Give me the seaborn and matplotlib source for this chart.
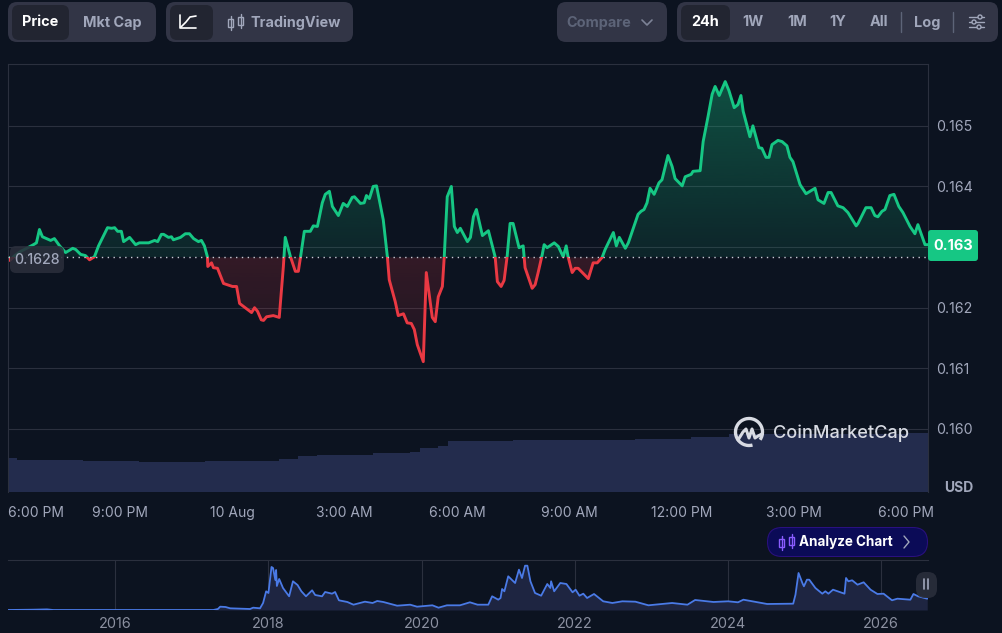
import numpy as np
import seaborn as sns
import matplotlib
matplotlib.use('Agg')
import matplotlib.pyplot as plt
from matplotlib.patches import Arc, Circle, FancyBboxPatch, PathPatch, Rectangle
from matplotlib.path import Path

# hours after 6:00 PM, and price in thousandths of a USD
hours = [
    0.02, 0.05, 0.18, 0.34, 0.50, 0.68, 0.76, 0.84, 0.92, 1.14, 1.24, 1.38, 1.54, 1.73, 1.81, 1.94, 2.07, 2.18, 2.31, 2.42,
    2.66, 2.77, 2.85, 2.93, 3.03, 3.09, 3.25, 3.41, 3.51, 3.76, 3.92, 4.00, 4.10, 4.16, 4.29, 4.37, 4.42, 4.61, 4.74, 4.85,
    4.96, 5.09, 5.17, 5.25, 5.33, 5.34, 5.44, 5.49, 5.60, 5.76, 5.95, 6.00, 6.11, 6.19, 6.51, 6.59, 6.67, 6.77, 6.83, 6.91,
    7.09, 7.25, 7.36, 7.41, 7.55, 7.68, 7.76, 7.82, 7.92, 8.08, 8.16, 8.27, 8.40, 8.48, 8.59, 8.67, 8.83, 8.96, 9.07, 9.20,
    9.26, 9.42, 9.52, 9.58, 9.66, 9.76, 9.85, 10.03, 10.14, 10.19, 10.35, 10.43, 10.57, 10.67, 10.78, 10.86, 10.94, 11.10, 11.18, 11.34,
    11.42, 11.50, 11.61, 11.66, 11.74, 11.85, 11.93, 12.01, 12.09, 12.28, 12.36, 12.44, 12.52, 12.68, 12.84, 13.02, 13.08, 13.18, 13.26, 13.34,
    13.42, 13.50, 13.66, 13.77, 13.82, 14.01, 14.09, 14.17, 14.28, 14.33, 14.41, 14.60, 14.71, 14.84, 14.92, 14.97, 15.08, 15.16, 15.24, 15.51,
    15.64, 15.75, 15.88, 15.96, 16.18, 16.26, 16.34, 16.50, 16.58, 16.84, 16.92, 17.00, 17.08, 17.16, 17.27, 17.40, 17.48, 17.64, 17.75, 17.83,
    18.02, 18.10, 18.26, 18.31, 18.50, 18.58, 18.71, 18.82, 18.90, 19.01, 19.17, 19.27, 19.41, 19.51, 19.59, 19.65, 19.83, 19.91, 20.07, 20.15,
    20.26, 20.34, 20.42, 20.58, 20.69, 20.82, 20.90, 20.98, 21.17, 21.33, 21.57, 21.65, 21.81, 21.92, 22.00, 22.18, 22.32, 22.45, 22.67, 22.72,
    22.93, 23.07, 23.17, 23.25, 23.36, 23.44, 23.57, 23.68, 23.81, 23.92, 24.11, 24.24, 24.32, 24.51, 24.59,
]
prices = [
    162.83, 162.78, 162.86, 162.93, 162.98, 163.04, 163.07, 163.29, 163.17, 163.11, 163.14, 163.02, 162.91, 162.98, 162.96, 162.88, 162.86, 162.79, 162.84, 163.02,
    163.32, 163.31, 163.32, 163.26, 163.26, 163.09, 163.16, 163.04, 163.07, 163.07, 163.11, 163.09, 163.21, 163.21, 163.16, 163.17, 163.12, 163.16, 163.22, 163.22,
    163.14, 163.09, 163.11, 163.02, 162.84, 162.68, 162.74, 162.66, 162.65, 162.40, 162.36, 162.35, 162.35, 162.07, 161.92, 162.00, 161.94, 161.80, 161.79, 161.85,
    161.87, 161.84, 162.68, 163.16, 162.84, 162.60, 162.60, 162.84, 163.26, 163.26, 163.35, 163.34, 163.73, 163.87, 163.92, 163.67, 163.52, 163.72, 163.67, 163.82,
    163.83, 163.72, 163.73, 163.85, 163.80, 164.00, 164.01, 163.45, 162.84, 162.46, 162.10, 161.87, 161.90, 161.75, 161.74, 161.64, 161.39, 161.11, 162.58, 161.84,
    161.77, 162.18, 162.35, 162.84, 163.83, 164.00, 163.34, 163.24, 163.31, 163.09, 163.16, 163.50, 163.62, 163.19, 163.27, 162.84, 162.43, 162.35, 162.45, 162.84,
    163.39, 163.39, 162.99, 163.02, 162.66, 162.32, 162.38, 162.58, 162.88, 163.04, 162.99, 163.07, 163.01, 162.84, 163.02, 162.84, 162.58, 162.65, 162.65, 162.48,
    162.74, 162.74, 162.83, 162.96, 163.24, 163.02, 163.16, 162.98, 163.07, 163.54, 163.59, 163.62, 163.73, 163.97, 163.87, 164.06, 164.11, 164.51, 164.33, 164.13,
    164.01, 164.16, 164.20, 164.25, 164.26, 164.74, 165.15, 165.52, 165.65, 165.50, 165.73, 165.58, 165.30, 165.35, 165.50, 165.24, 164.82, 165.00, 164.64, 164.63,
    164.48, 164.48, 164.69, 164.76, 164.74, 164.67, 164.48, 164.41, 164.03, 163.88, 163.97, 163.78, 163.72, 163.90, 163.90, 163.68, 163.65, 163.57, 163.35, 163.39,
    163.65, 163.65, 163.52, 163.50, 163.59, 163.62, 163.85, 163.87, 163.67, 163.57, 163.34, 163.22, 163.37, 163.04, 163.04,
]
base_price = 162.83

# volume per 15 minutes, relative units
volume = [
    33.7, 32, 32, 32, 32, 32, 32, 32, 31, 31, 31, 31, 31, 31, 30, 30, 30, 30, 30, 30, 30,
    31, 31, 31, 31, 31, 31, 31, 31, 33, 33, 35.7, 35.7, 37.3, 37.3, 37.3, 37.3, 37.3, 37.3,
    38.7, 38.7, 38.7, 38.7, 40, 43.7, 43.7, 46, 51.3, 51.3, 51.3, 51.3, 51.3, 51.3, 51.3,
    52, 52, 52, 52, 52, 52, 52, 52, 52, 52, 52, 52, 52,
    53.3, 53.3, 53.3, 53.3, 53.3, 53.3, 55, 55, 55, 55,
    57.7, 57.7, 57.7, 57.7, 57.7, 57.7, 57.7, 57.7, 57.7, 57.7, 57.7, 57.7, 57.7, 57.7, 57.7, 57.7, 57.7, 57.7, 57.7,
    59.3, 59.3, 59.3,
]

# all-time overview
years = [
    2014.60, 2014.93, 2015.11, 2015.19, 2017.28, 2017.34, 2017.37, 2017.44, 2017.50, 2017.76, 2017.80, 2017.89, 2017.93, 2017.97, 2018.00, 2018.04, 2018.06, 2018.09, 2018.10, 2018.11,
    2018.14, 2018.19, 2018.27, 2018.32, 2018.38, 2018.43, 2018.49, 2018.57, 2018.61, 2018.70, 2018.74, 2018.83, 2018.87, 2018.92, 2019.03, 2019.11, 2019.26, 2019.36, 2019.42, 2019.50,
    2019.68, 2019.85, 2019.94, 2020.14, 2020.22, 2020.33, 2020.50, 2020.63, 2020.73, 2020.87, 2020.92, 2021.00, 2021.03, 2021.05, 2021.08, 2021.13, 2021.22, 2021.27, 2021.31, 2021.35,
    2021.38, 2021.42, 2021.48, 2021.56, 2021.64, 2021.68, 2021.69, 2021.73, 2021.81, 2021.89, 2021.97, 2022.01, 2022.06, 2022.11, 2022.16, 2022.25, 2022.37, 2022.49, 2022.62, 2022.79,
    2022.96, 2023.27, 2023.47, 2023.57, 2023.81, 2024.00, 2024.13, 2024.20, 2024.51, 2024.85, 2024.88, 2024.92, 2024.97, 2024.99, 2025.03, 2025.06, 2025.14, 2025.23, 2025.27, 2025.31,
    2025.37, 2025.52, 2025.54, 2025.57, 2025.62, 2025.69, 2025.77, 2025.86, 2025.95, 2026.03, 2026.14, 2026.21, 2026.38, 2026.42, 2026.48, 2026.60,
]
history = [
    0.000, 0.004, 0.008, 0.000, 0.000, 0.013, 0.043, 0.039, 0.022, 0.013, 0.030, 0.022, 0.091, 0.243, 0.221, 0.559, 0.546, 0.390, 0.520, 0.312,
    0.403, 0.286, 0.178, 0.373, 0.325, 0.243, 0.178, 0.256, 0.195, 0.178, 0.234, 0.212, 0.234, 0.126, 0.104, 0.069, 0.108, 0.091, 0.117, 0.104,
    0.056, 0.069, 0.043, 0.061, 0.030, 0.061, 0.061, 0.100, 0.069, 0.069, 0.178, 0.134, 0.156, 0.273, 0.243, 0.438, 0.351, 0.524, 0.416, 0.576,
    0.576, 0.373, 0.221, 0.186, 0.338, 0.286, 0.373, 0.243, 0.351, 0.338, 0.230, 0.264, 0.186, 0.212, 0.156, 0.208, 0.113, 0.091, 0.113, 0.108,
    0.061, 0.091, 0.069, 0.130, 0.104, 0.113, 0.100, 0.134, 0.078, 0.082, 0.199, 0.481, 0.351, 0.308, 0.394, 0.394, 0.286, 0.212, 0.243, 0.212,
    0.264, 0.212, 0.416, 0.373, 0.386, 0.329, 0.360, 0.264, 0.208, 0.212, 0.126, 0.147, 0.134, 0.208, 0.178, 0.147,
]

# the 0.163 tick is shown by the green badge instead
price_ticks = [160, 161, 162, 163, 164, 165]
price_labels = ['0.160', '0.161', '0.162', '', '0.164', '0.165']
hour_ticks = [0, 3, 6, 9, 12, 15, 18, 21, 24]
hour_labels = ['6:00 PM', '9:00 PM', '10 Aug', '3:00 AM', '6:00 AM', '9:00 AM', '12:00 PM', '3:00 PM', '6:00 PM']
year_ticks = [2016, 2018, 2020, 2022, 2024, 2026]

BG = '#0c1320'
GRID = '#2b303e'
GREEN = '#16c784'
RED = '#ea3943'
BLUE = '#4a7ae6'
MUTED = '#a1a7bb'
PANEL = '#323546'
ACTIVE = '#222531'
W, H = 1002, 633

sns.set_theme(style='dark', rc={'figure.facecolor': BG, 'axes.facecolor': BG})
plt.rcParams['font.family'] = ['Inter', 'DejaVu Sans']

fig = plt.figure(figsize=(W / 100, H / 100), dpi=100)


def px_axes(left, top, right, bottom, **kw):
    return fig.add_axes([left / W, 1 - bottom / H, (right - left) / W, (bottom - top) / H], **kw)


hours_a = np.array(hours)
prices_a = np.array(prices)
xlim = (0.016, 24.59)
ylim = (158.96, 166.02)

# volume sits underneath the price line
ax_vol = px_axes(8, 64, 928, 492)
vol_x = np.arange(len(volume)) * 0.25 + 0.14
sns.barplot(x=vol_x, y=volume, native_scale=True, width=1.0, color='#232c4d', saturation=1,
            linewidth=0, ax=ax_vol)
ax_vol.set_xlim(*xlim)
ax_vol.set_ylim(0, 428)
ax_vol.set_xlabel('')
ax_vol.set_ylabel('')
ax_vol.set_xticks([])
ax_vol.set_yticks([])
for s in ax_vol.spines.values():
    s.set_visible(False)

ax = px_axes(8, 64, 928, 492)
ax.patch.set_alpha(0)
ax.set_xlim(*xlim)
ax.set_ylim(*ylim)


def gradient_fill(where_mask, rgb, a_start, a_end):
    poly = ax.fill_between(hours_a, prices_a, base_price, where=where_mask, interpolate=True,
                           color='none', linewidth=0)
    compound = Path.make_compound_path(*poly.get_paths())
    grad = np.zeros((256, 1, 4))
    grad[..., :3] = matplotlib.colors.to_rgb(rgb)
    grad[:, 0, 3] = np.linspace(a_start, a_end, 256)
    low, high = compound.vertices[:, 1].min(), compound.vertices[:, 1].max()
    im = ax.imshow(grad, extent=(xlim[0], xlim[1], low, high), origin='lower', aspect='auto', zorder=1)
    im.set_clip_path(PathPatch(compound, transform=ax.transData))


gradient_fill(prices_a >= base_price, GREEN, 0.10, 0.34)
gradient_fill(prices_a <= base_price, RED, 0.08, 0.18)
ax.set_xlim(*xlim)
ax.set_ylim(*ylim)

# one line, drawn twice and clipped at the opening price
for color, low, high in ((GREEN, base_price, ylim[1]), (RED, ylim[0], base_price)):
    sns.lineplot(x=hours, y=prices, estimator=None, sort=False, color=color, linewidth=2.1,
                 ax=ax, zorder=3)
    line = ax.lines[-1]
    line.set_solid_joinstyle('round')
    line.set_clip_path(Rectangle((xlim[0], low), xlim[1] - xlim[0], high - low, transform=ax.transData))

ax.axhline(base_price, color='#c9ccd6', linewidth=1, linestyle=(0, (1, 3.2)), zorder=4)

ax.yaxis.tick_right()
ax.set_yticks(price_ticks, price_labels, color=MUTED, fontsize=10.2)
ax.set_xticks(hour_ticks, hour_labels, color=MUTED, fontsize=10)
ax.get_xticklabels()[0].set_ha('left')
ax.tick_params(axis='x', length=0, pad=10)
ax.tick_params(axis='y', length=0, pad=5.5)
ax.grid(axis='y', color=GRID, linewidth=0.8, zorder=0)
ax.grid(axis='x', visible=False)
ax.set_axisbelow(True)
ax.set_xlabel('')
ax.set_ylabel('')
for name, s in ax.spines.items():
    s.set_visible(name in ('left', 'right', 'top'))
    s.set_color(GRID)
    s.set_linewidth(0.8)

# overview strip
ax_hist = px_axes(8, 560, 928, 610)
sns.lineplot(x=years, y=history, estimator=None, sort=False, color=BLUE, linewidth=1.3, ax=ax_hist, zorder=3)
ax_hist.fill_between(years, history, 0, color='#1e2541', linewidth=0, zorder=2)
ax_hist.set_xlim(2014.6, 2026.61)
ax_hist.set_ylim(0, 0.65)
ax_hist.set_yticks([])
ax_hist.set_xticks(year_ticks, [str(y) for y in year_ticks], color='#8b90a0', fontsize=10.4)
ax_hist.tick_params(axis='x', length=0, pad=5)
ax_hist.grid(axis='x', color=GRID, linewidth=0.8, zorder=0)
ax_hist.set_xlabel('')
ax_hist.set_ylabel('')
for name, s in ax_hist.spines.items():
    s.set_visible(name in ('top',))
    s.set_color(GRID)
    s.set_linewidth(0.8)

# toolbar and badges, laid out in screen pixels
ui = fig.add_axes([0, 0, 1, 1], zorder=10)
ui.set_xlim(0, W)
ui.set_ylim(H, 0)
ui.axis('off')
ui.patch.set_alpha(0)


def box(x0, y0, x1, y1, color, r=8, **kw):
    ui.add_patch(FancyBboxPatch((x0 + r, y0 + r), x1 - x0 - 2 * r, y1 - y0 - 2 * r,
                                boxstyle=f'round,pad={r},rounding_size={r}', fc=color, ec='none', **kw))


def label(x, y, s, color=MUTED, size=10.4, weight='bold', ha='center'):
    ui.text(x, y + 0.5, s, color=color, fontsize=size, fontweight=weight, ha=ha, va='center')


def candles(x, y, color):
    for dx, top, bot in ((-5, -3, 5), (5, -5, 3)):
        ui.plot([x + dx, x + dx], [y + top - 3, y + bot + 3], color=color, lw=1)
        ui.add_patch(Rectangle((x + dx - 2.5, y + top), 5, bot - top, fc='none', ec=color, lw=1, zorder=3))


box(8, 2, 156, 42, PANEL, r=9)
box(12, 5, 69, 40, ACTIVE, r=7)
label(40, 22, 'Price', color='white')
label(112, 22, 'Mkt Cap')

box(166, 2, 353, 42, PANEL, r=9)
box(170, 5, 213, 40, ACTIVE, r=7)
ui.plot([180, 180, 196], [15, 28, 28], color='white', lw=1.2)
ui.plot([181, 186, 190, 196], [27, 22, 17, 16], color='white', lw=1.2)
candles(236, 22, MUTED)
label(296, 22, 'TradingView')

box(557, 2, 667, 42, PANEL, r=9)
label(599, 22, 'Compare', color='#5d6478')
ui.plot([642, 647, 652], [20, 25, 20], color='#7d8397', lw=1.2)

box(677, 2, 998, 42, PANEL, r=9)
box(681, 5, 730, 40, ACTIVE, r=7)
label(705, 22, '24h', color='white')
for x, s in ((753, '1W'), (797, '1M'), (838, '1Y'), (879, 'All'), (927, 'Log')):
    label(x, 22, s)
for x in (901, 953):
    ui.plot([x, x], [12, 32], color='#5d6478', lw=1)
for y, cx in ((17, 980), (22, 974), (27, 979)):
    ui.plot([969, 984], [y, y], color=MUTED, lw=1)
    ui.add_patch(Circle((cx, y), 2, fc=PANEL, ec=MUTED, lw=1, zorder=5))

# price badges
box(928, 230, 978, 261, GREEN, r=3)
label(953, 246, '0.163', color='white', size=10.4)
box(10, 246, 64, 273, '#2a2e3b', r=6, alpha=0.88)
label(37, 259.5, '0.1628', color=MUTED, size=10.2, weight='medium')
label(959, 488, 'USD', color=MUTED, size=10)

# CoinMarketCap mark
ui.add_patch(Arc((749, 432), 27, 27, theta1=75, theta2=395, color='#d8dbe3', lw=2.4))
ui.plot([738, 743, 746, 749, 752, 755, 758, 762], [440, 432, 429, 438, 429, 438, 436, 434],
        color='#d8dbe3', lw=2.2, solid_joinstyle='round')
label(773, 432.5, 'CoinMarketCap', color='#d8dbe3', size=13.1, weight='medium', ha='left')

# analyze pill
box(767, 527, 928, 557, '#2a1080', r=15)
box(768, 528, 927, 556, '#0b0b57', r=14)
candles(787, 542, '#8a5cff')
label(799, 541.5, 'Analyze Chart', color='white', size=9.7, ha='left')
ui.plot([904, 909, 904], [536, 542, 548], color='#a1a7bb', lw=1)

# pause button
box(916, 572, 937, 598, '#2a2e3b', r=9, alpha=0.9)
ui.plot([924.5, 924.5], [579, 589], color=MUTED, lw=1.2)
ui.plot([928.5, 928.5], [579, 589], color=MUTED, lw=1.2)

fig.savefig('out.png', dpi=100, facecolor=BG)
